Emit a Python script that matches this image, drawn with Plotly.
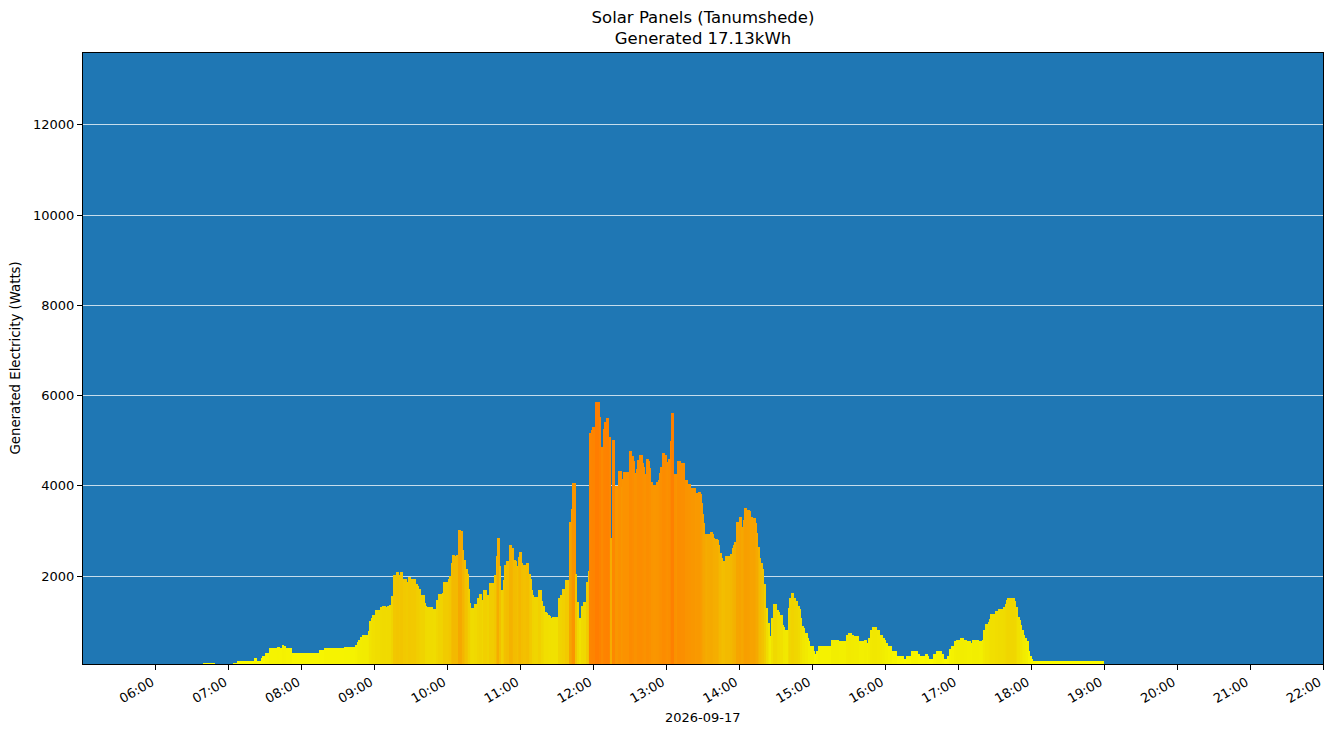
import pandas as pd
import plotly.graph_objects as go

DAY = "2026-09-17"
TITLE = "Solar Panels (Tanumshede)<br>Generated 17.13kWh"
X_LABEL = DAY
Y_LABEL = "Generated Electricity (Watts)"

# Start time of each reading interval and the power during it (Watts).
# Each bar runs from its start time to the next one; the last ends at END_TIME.
start_times = [
    "06:38:30", "06:48:30", "07:03:30", "07:06:30", "07:20:30", "07:23:00", "07:26:30", "07:28:00",
    "07:29:30", "07:33:00", "07:39:30", "07:42:00", "07:43:30", "07:45:30", "07:47:00", "07:52:00",
    "08:14:00", "08:18:00", "08:34:30", "08:43:30", "08:45:30", "08:47:00", "08:48:30", "08:49:30",
    "08:54:30", "08:56:00", "08:57:00", "08:58:30", "09:00:00", "09:04:30", "09:05:00", "09:06:00",
    "09:09:30", "09:10:00", "09:12:00", "09:14:00", "09:15:00", "09:17:30", "09:20:00", "09:21:00",
    "09:23:30", "09:26:30", "09:27:30", "09:30:00", "09:34:00", "09:35:30", "09:36:30", "09:37:30",
    "09:38:00", "09:41:30", "09:42:00", "09:43:00", "09:48:00", "09:50:30", "09:51:00", "09:52:00",
    "09:55:30", "09:56:00", "10:00:30", "10:01:00", "10:03:00", "10:03:30", "10:06:00", "10:07:30",
    "10:08:30", "10:11:00", "10:12:30", "10:13:30", "10:14:30", "10:15:00", "10:16:30", "10:17:30",
    "10:18:30", "10:19:00", "10:21:30", "10:24:00", "10:26:00", "10:28:30", "10:29:00", "10:32:30",
    "10:34:00", "10:38:00", "10:40:00", "10:40:30", "10:43:00", "10:44:00", "10:45:30", "10:46:30",
    "10:47:00", "10:48:00", "10:50:30", "10:53:00", "10:54:30", "10:56:00", "10:57:00", "10:58:00",
    "10:58:30", "11:01:00", "11:02:00", "11:04:30", "11:07:00", "11:08:30", "11:09:30", "11:10:00",
    "11:11:00", "11:14:30", "11:17:30", "11:18:30", "11:19:30", "11:20:00", "11:21:30", "11:22:30",
    "11:23:30", "11:25:00", "11:26:00", "11:31:30", "11:33:00", "11:34:00", "11:36:30", "11:40:30",
    "11:41:30", "11:42:30", "11:45:30", "11:46:30", "11:48:00", "11:49:30", "11:51:30", "11:54:30",
    "11:55:30", "11:57:00", "11:58:30", "11:59:00", "12:01:00", "12:05:00", "12:06:30", "12:08:00",
    "12:09:00", "12:10:00", "12:13:00", "12:14:00", "12:15:00", "12:18:00", "12:20:00", "12:23:00",
    "12:24:00", "12:24:30", "12:29:00", "12:32:00", "12:33:00", "12:33:30", "12:34:30", "12:35:30",
    "12:36:00", "12:37:00", "12:40:30", "12:41:00", "12:42:00", "12:43:00", "12:45:30", "12:46:00",
    "12:47:30", "12:48:30", "12:52:00", "12:53:30", "12:54:30", "12:55:00", "12:56:00", "12:59:00",
    "13:00:00", "13:01:00", "13:01:30", "13:03:30", "13:04:00", "13:06:30", "13:08:30", "13:09:00",
    "13:11:30", "13:15:00", "13:18:00", "13:20:00", "13:24:00", "13:24:30", "13:25:30", "13:28:00",
    "13:29:00", "13:29:30", "13:30:30", "13:32:00", "13:33:00", "13:34:00", "13:35:30", "13:38:00",
    "13:38:30", "13:39:30", "13:42:00", "13:43:00", "13:43:30", "13:45:30", "13:46:00", "13:47:00",
    "13:48:30", "13:52:00", "13:54:30", "13:55:00", "13:56:00", "13:57:30", "13:59:30", "14:02:00",
    "14:03:30", "14:04:00", "14:06:30", "14:08:30", "14:09:00", "14:11:00", "14:13:30", "14:14:00",
    "14:15:30", "14:16:30", "14:18:00", "14:19:00", "14:20:00", "14:22:00", "14:23:30", "14:24:30",
    "14:26:00", "14:27:30", "14:31:00", "14:32:30", "14:33:30", "14:36:00", "14:36:30", "14:37:30",
    "14:40:00", "14:41:30", "14:42:30", "14:45:00", "14:46:30", "14:48:00", "14:50:00", "14:50:30",
    "14:51:30", "14:52:30", "14:54:00", "14:56:30", "14:57:00", "14:58:00", "15:01:30", "15:02:00",
    "15:03:00", "15:04:30", "15:15:30", "15:22:00", "15:27:30", "15:29:30", "15:32:30", "15:34:00",
    "15:38:30", "15:42:30", "15:45:00", "15:45:30", "15:47:30", "15:49:00", "15:53:00", "15:55:30",
    "15:58:00", "15:59:30", "16:00:30", "16:02:00", "16:05:30", "16:09:30", "16:15:30", "16:17:00",
    "16:21:00", "16:27:00", "16:28:30", "16:32:30", "16:35:00", "16:36:00", "16:39:00", "16:41:30",
    "16:46:30", "16:48:30", "16:51:30", "16:52:30", "16:53:00", "16:54:00", "16:56:30", "16:58:00",
    "17:01:30", "17:04:30", "17:07:00", "17:10:30", "17:11:30", "17:17:00", "17:19:30", "17:20:30",
    "17:21:00", "17:22:00", "17:24:30", "17:25:30", "17:26:00", "17:30:00", "17:32:30", "17:37:00",
    "17:37:30", "17:38:30", "17:39:30", "17:40:00", "17:46:30", "17:47:30", "17:48:30", "17:49:00",
    "17:51:00", "17:51:30", "17:52:30", "17:53:30", "17:54:00", "17:55:00", "17:56:30", "17:58:00",
    "17:59:00", "18:00:30", "18:01:30",
]
END_TIME = "19:00:00"

watts = [
    80, 0, 80, 120, 190, 120, 190, 230,
    300, 410, 430, 410, 470, 450, 410, 300,
    360, 410, 430, 470, 540, 580, 650, 700,
    790, 1010, 1080, 1150, 1255, 1280, 1320, 1345,
    1320, 1345, 1365, 1565, 2030, 2100, 2030, 2100,
    1940, 1875, 1985, 1940, 1830, 1785, 1720, 1655,
    1590, 1410, 1345, 1320, 1280, 1300, 1475, 1610,
    1630, 1875, 1940, 2005, 2295, 2470, 2450, 2470,
    3025, 3000, 2585, 2360, 2295, 2160, 2050, 1720,
    1410, 1300, 1390, 1520, 1610, 1475, 1700, 1590,
    1850, 2030, 2450, 2850, 2230, 1700, 1920, 2160,
    2250, 2340, 2690, 2630, 2360, 2340, 2230, 2430,
    2540, 2295, 2250, 2295, 2050, 1940, 1700, 1590,
    1545, 1700, 1455, 1345, 1280, 1210, 1190, 1145,
    1120, 1080, 1100, 1520, 1590, 1720, 1920, 3200,
    3490, 4065, 2050, 1430, 1080, 1345, 1430, 1875,
    2120, 5165, 5230, 5300, 5870, 5520, 4855, 5250,
    5405, 5495, 5075, 2840, 5010, 3990, 4325, 3970,
    4145, 4300, 4765, 4655, 4545, 4280, 4255, 4365,
    4565, 4675, 4500, 4410, 4255, 4590, 4545, 4390,
    4080, 4015, 4080, 4125, 4280, 4410, 4720, 4675,
    4520, 4435, 4590, 4985, 5605, 4255, 4145, 4545,
    4500, 4125, 4035, 3945, 3815, 3835, 3860, 3815,
    3615, 3370, 3170, 2930, 2860, 2930, 2975, 2930,
    2840, 2820, 2795, 2685, 2510, 2400, 2310, 2330,
    2440, 2485, 2620, 2685, 2750, 3195, 3305, 3085,
    3240, 3505, 3460, 3440, 3305, 3285, 3170, 2950,
    2640, 2400, 2285, 2155, 1820, 1290, 960, 670,
    1070, 1380, 1250, 1200, 1140, 920, 870, 800,
    1290, 1510, 1620, 1510, 1450, 1340, 1270, 1070,
    890, 850, 740, 630, 560, 450, 340, 270,
    340, 450, 580, 560, 700, 740, 700, 670,
    560, 580, 520, 630, 800, 870, 800, 700,
    630, 580, 520, 450, 340, 230, 160, 230,
    340, 270, 230, 270, 230, 160, 270, 340,
    270, 160, 230, 340, 385, 450, 560, 580,
    630, 580, 560, 520, 580, 560, 580, 700,
    800, 940, 980, 1050, 1160, 1230, 1270, 1290,
    1310, 1380, 1470, 1510, 1450, 1310, 1140, 1090,
    1030, 920, 800, 740, 700, 630, 560, 340,
    230, 160, 120,
]

hour_ticks = [f"{h:02d}:00" for h in range(6, 23)]
y_ticks = [2000, 4000, 6000, 8000, 10000, 12000]

starts = pd.to_datetime([f"{DAY} {t}" for t in start_times])
ends = list(starts[1:]) + [pd.Timestamp(f"{DAY} {END_TIME}")]
widths = [(e - s).total_seconds() * 1000 for s, e in zip(starts, ends)]

# yellow for low output, orange at the peak
colorscale = [
    [0.0, "rgb(255,255,0)"],
    [0.1, "rgb(242,238,0)"],
    [0.25, "rgb(240,215,0)"],
    [0.35, "rgb(242,198,0)"],
    [0.5, "rgb(245,170,0)"],
    [0.7, "rgb(250,148,0)"],
    [1.0, "rgb(255,125,0)"],
]

fig = go.Figure(go.Bar(
    x=starts,
    y=watts,
    width=widths,
    offset=0,
    marker=dict(
        color=watts,
        colorscale=colorscale,
        cmin=0,
        cmax=max(watts),
        line=dict(width=0),
    ),
    showlegend=False,
))

font = dict(family="DejaVu Sans", size=13, color="black")

# plot area in pixels: x 83..1323, y 53..664
fig.update_layout(
    width=1333,
    height=736,
    margin=dict(l=83, r=10, t=53, b=72, autoexpand=False),
    paper_bgcolor="white",
    plot_bgcolor="#1f77b4",
    font=font,
    title=dict(
        text=TITLE,
        x=703 / 1333,
        xanchor="center",
        xref="container",
        y=1 - 23 / 736,
        yref="container",
        yanchor="middle",
        font=dict(family="DejaVu Sans", size=16.5, color="black"),
    ),
    bargap=0,
    annotations=[
        dict(text=X_LABEL, xref="paper", yref="paper", x=0.5, y=(664 - 717) / 611,
             xanchor="center", yanchor="middle", showarrow=False, font=font),
        dict(text=Y_LABEL, xref="paper", yref="paper", x=(15 - 83) / 1240, y=0.5,
             xanchor="center", yanchor="middle", textangle=-90, showarrow=False,
             font=dict(family="DejaVu Sans", size=13.3, color="black")),
    ],
)

fig.update_xaxes(
    type="date",
    range=[f"{DAY} 05:00", f"{DAY} 22:00"],
    tickvals=[f"{DAY} {t}" for t in hour_ticks],
    ticktext=hour_ticks,
    tickangle=-30,
    ticklabelshift=-4,
    ticks="outside",
    ticklen=5,
    tickcolor="black",
    showgrid=False,
    showline=True,
    linecolor="black",
    linewidth=1,
    mirror=True,
    automargin=False,
    tickfont=font,
)

fig.update_yaxes(
    range=[55, 13590],
    tickvals=y_ticks,
    ticktext=[str(v) for v in y_ticks],
    ticks="outside",
    ticklen=5,
    tickcolor="black",
    showgrid=True,
    gridcolor="rgba(255,255,255,0.75)",
    gridwidth=1,
    zeroline=False,
    showline=True,
    linecolor="black",
    linewidth=1,
    mirror=True,
    automargin=False,
    tickfont=font,
)

# drop the page's default body margin so the figure sits at the window corner
fig.write_html(
    "out.html",
    config={"displayModeBar": False},
    post_script="document.body.style.margin = '0';",
)
